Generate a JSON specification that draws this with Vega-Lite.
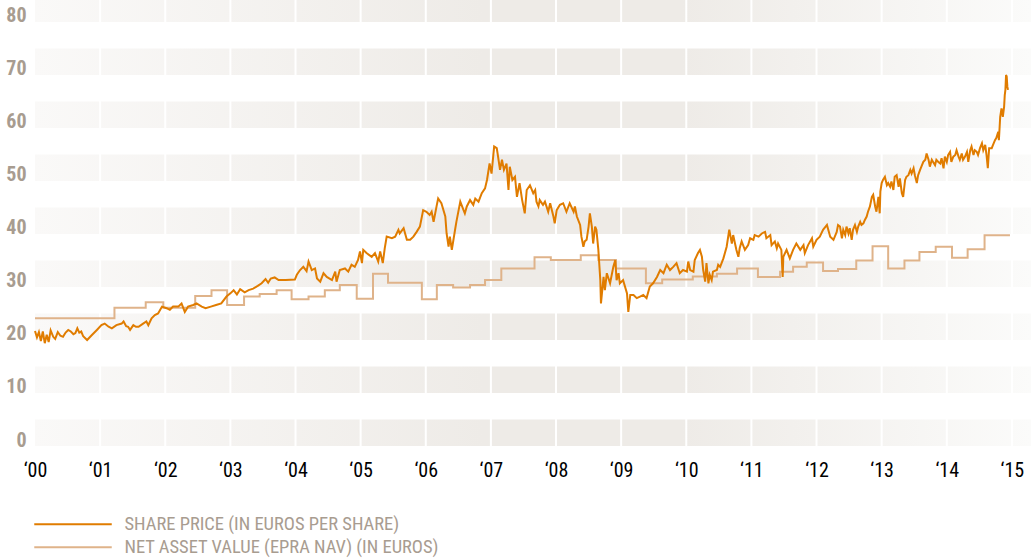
{
  "$schema": "https://vega.github.io/schema/vega-lite/v6.json",
  "width": 996,
  "height": 446,
  "autosize": {"type": "none"},
  "padding": {"left": 35, "top": 0, "right": 0, "bottom": 114},
  "background": "white",
  "config": {"view": {"stroke": null}},
  "datasets": {
    "bands": [
      {"lo": 0, "hi": 5}, {"lo": 10, "hi": 15}, {"lo": 20, "hi": 25}, {"lo": 30, "hi": 35},
      {"lo": 40, "hi": 45}, {"lo": 50, "hi": 55}, {"lo": 60, "hi": 65}, {"lo": 70, "hi": 75}, {"lo": 80, "hi": 84.15}
    ],
    "years": [
      {"year": 2001}, {"year": 2002}, {"year": 2003}, {"year": 2004}, {"year": 2005}, {"year": 2006}, {"year": 2007},
      {"year": 2008}, {"year": 2009}, {"year": 2010}, {"year": 2011}, {"year": 2012}, {"year": 2013}, {"year": 2014}, {"year": 2015}
    ],
    "nav": [
      {"t": 2000.00, "v": 24.1}, {"t": 2001.22, "v": 26.1}, {"t": 2001.70, "v": 27.1}, {"t": 2001.97, "v": 26.1},
      {"t": 2002.46, "v": 28.3}, {"t": 2002.71, "v": 29.4}, {"t": 2002.95, "v": 26.6}, {"t": 2003.21, "v": 28.2},
      {"t": 2003.45, "v": 28.7}, {"t": 2003.71, "v": 29.4}, {"t": 2003.94, "v": 27.7}, {"t": 2004.20, "v": 28.2},
      {"t": 2004.45, "v": 29.4}, {"t": 2004.68, "v": 30.4}, {"t": 2004.94, "v": 27.8}, {"t": 2005.19, "v": 32.5},
      {"t": 2005.42, "v": 30.8}, {"t": 2005.94, "v": 27.7}, {"t": 2006.17, "v": 30.4}, {"t": 2006.42, "v": 29.9},
      {"t": 2006.68, "v": 30.4}, {"t": 2006.91, "v": 31.3}, {"t": 2007.16, "v": 33.5}, {"t": 2007.67, "v": 35.6},
      {"t": 2007.92, "v": 35.1}, {"t": 2008.38, "v": 36.0}, {"t": 2008.65, "v": 35.1}, {"t": 2008.92, "v": 33.5},
      {"t": 2009.38, "v": 30.7}, {"t": 2009.63, "v": 31.4}, {"t": 2010.10, "v": 32.0}, {"t": 2010.47, "v": 32.5},
      {"t": 2010.78, "v": 33.5}, {"t": 2011.10, "v": 31.9}, {"t": 2011.44, "v": 32.9}, {"t": 2011.64, "v": 33.8},
      {"t": 2011.85, "v": 34.6}, {"t": 2012.10, "v": 33.0}, {"t": 2012.33, "v": 33.4}, {"t": 2012.61, "v": 35.0},
      {"t": 2012.86, "v": 37.7}, {"t": 2013.10, "v": 33.5}, {"t": 2013.35, "v": 35.0}, {"t": 2013.58, "v": 36.6},
      {"t": 2013.83, "v": 37.6}, {"t": 2014.08, "v": 35.5}, {"t": 2014.32, "v": 37.1}, {"t": 2014.58, "v": 39.75},
      {"t": 2014.97, "v": 39.75}
    ],
    "price": [
      {"t": 2000.00, "v": 21.7}, {"t": 2000.03, "v": 20.5}, {"t": 2000.06, "v": 21.5}, {"t": 2000.09, "v": 19.8},
      {"t": 2000.12, "v": 21.6}, {"t": 2000.15, "v": 19.4}, {"t": 2000.18, "v": 21.0}, {"t": 2000.21, "v": 19.6},
      {"t": 2000.24, "v": 21.8}, {"t": 2000.28, "v": 20.6}, {"t": 2000.31, "v": 20.2}, {"t": 2000.35, "v": 21.5},
      {"t": 2000.39, "v": 20.8}, {"t": 2000.43, "v": 20.6}, {"t": 2000.47, "v": 21.4}, {"t": 2000.51, "v": 21.9},
      {"t": 2000.55, "v": 21.6}, {"t": 2000.59, "v": 21.1}, {"t": 2000.62, "v": 21.3}, {"t": 2000.65, "v": 22.2},
      {"t": 2000.68, "v": 21.4}, {"t": 2000.71, "v": 21.6}, {"t": 2000.74, "v": 20.7}, {"t": 2000.80, "v": 20.0},
      {"t": 2000.87, "v": 20.9}, {"t": 2000.95, "v": 21.9}, {"t": 2001.02, "v": 22.8}, {"t": 2001.07, "v": 23.1},
      {"t": 2001.13, "v": 22.5}, {"t": 2001.18, "v": 22.2}, {"t": 2001.25, "v": 22.8}, {"t": 2001.33, "v": 23.1},
      {"t": 2001.36, "v": 23.5}, {"t": 2001.40, "v": 22.6}, {"t": 2001.43, "v": 22.5}, {"t": 2001.46, "v": 21.9},
      {"t": 2001.51, "v": 22.8}, {"t": 2001.55, "v": 22.5}, {"t": 2001.59, "v": 22.5}, {"t": 2001.66, "v": 23.1},
      {"t": 2001.71, "v": 23.5}, {"t": 2001.74, "v": 22.8}, {"t": 2001.79, "v": 24.1}, {"t": 2001.84, "v": 24.7},
      {"t": 2001.89, "v": 25.0}, {"t": 2001.95, "v": 26.3}, {"t": 2002.02, "v": 26.0}, {"t": 2002.07, "v": 25.7},
      {"t": 2002.12, "v": 26.3}, {"t": 2002.20, "v": 26.3}, {"t": 2002.25, "v": 26.9}, {"t": 2002.30, "v": 25.3},
      {"t": 2002.35, "v": 26.3}, {"t": 2002.43, "v": 26.6}, {"t": 2002.48, "v": 26.9}, {"t": 2002.56, "v": 26.3},
      {"t": 2002.62, "v": 26.0}, {"t": 2002.70, "v": 26.3}, {"t": 2002.78, "v": 26.6}, {"t": 2002.86, "v": 26.9},
      {"t": 2002.94, "v": 28.2}, {"t": 2003.00, "v": 28.8}, {"t": 2003.05, "v": 29.4}, {"t": 2003.10, "v": 28.6},
      {"t": 2003.15, "v": 29.6}, {"t": 2003.22, "v": 29.0}, {"t": 2003.28, "v": 29.4}, {"t": 2003.35, "v": 29.7},
      {"t": 2003.42, "v": 30.2}, {"t": 2003.48, "v": 30.7}, {"t": 2003.54, "v": 31.5}, {"t": 2003.58, "v": 30.8},
      {"t": 2003.62, "v": 31.6}, {"t": 2003.68, "v": 31.8}, {"t": 2003.74, "v": 31.3}, {"t": 2003.85, "v": 31.3},
      {"t": 2003.99, "v": 31.4}, {"t": 2004.02, "v": 32.3}, {"t": 2004.07, "v": 33.2}, {"t": 2004.12, "v": 33.8},
      {"t": 2004.17, "v": 33.0}, {"t": 2004.20, "v": 34.8}, {"t": 2004.25, "v": 33.2}, {"t": 2004.30, "v": 33.5},
      {"t": 2004.33, "v": 31.6}, {"t": 2004.38, "v": 31.0}, {"t": 2004.43, "v": 32.6}, {"t": 2004.48, "v": 31.9},
      {"t": 2004.56, "v": 31.3}, {"t": 2004.61, "v": 32.9}, {"t": 2004.63, "v": 31.0}, {"t": 2004.68, "v": 33.2},
      {"t": 2004.76, "v": 33.5}, {"t": 2004.81, "v": 32.9}, {"t": 2004.86, "v": 34.2}, {"t": 2004.91, "v": 33.8},
      {"t": 2004.96, "v": 35.1}, {"t": 2004.99, "v": 36.7}, {"t": 2005.02, "v": 34.5}, {"t": 2005.04, "v": 37.0},
      {"t": 2005.09, "v": 36.4}, {"t": 2005.17, "v": 35.7}, {"t": 2005.22, "v": 36.4}, {"t": 2005.27, "v": 34.8},
      {"t": 2005.30, "v": 36.7}, {"t": 2005.34, "v": 34.5}, {"t": 2005.37, "v": 37.3}, {"t": 2005.40, "v": 39.5},
      {"t": 2005.48, "v": 39.2}, {"t": 2005.53, "v": 39.5}, {"t": 2005.58, "v": 40.8}, {"t": 2005.60, "v": 40.1},
      {"t": 2005.66, "v": 41.1}, {"t": 2005.71, "v": 38.9}, {"t": 2005.76, "v": 38.9}, {"t": 2005.81, "v": 39.5},
      {"t": 2005.86, "v": 40.4}, {"t": 2005.91, "v": 41.4}, {"t": 2005.96, "v": 44.5}, {"t": 2006.01, "v": 44.2},
      {"t": 2006.06, "v": 43.6}, {"t": 2006.09, "v": 44.2}, {"t": 2006.12, "v": 42.3}, {"t": 2006.17, "v": 45.5},
      {"t": 2006.19, "v": 46.7}, {"t": 2006.24, "v": 45.8}, {"t": 2006.30, "v": 43.3}, {"t": 2006.32, "v": 40.1},
      {"t": 2006.35, "v": 37.6}, {"t": 2006.37, "v": 39.5}, {"t": 2006.40, "v": 37.0}, {"t": 2006.45, "v": 40.8},
      {"t": 2006.47, "v": 42.3}, {"t": 2006.53, "v": 46.1}, {"t": 2006.58, "v": 44.5}, {"t": 2006.60, "v": 43.9},
      {"t": 2006.63, "v": 45.2}, {"t": 2006.68, "v": 46.4}, {"t": 2006.73, "v": 45.5}, {"t": 2006.76, "v": 46.7},
      {"t": 2006.81, "v": 46.1}, {"t": 2006.86, "v": 47.7}, {"t": 2006.91, "v": 48.6}, {"t": 2006.94, "v": 50.2},
      {"t": 2006.98, "v": 53.3}, {"t": 2007.01, "v": 51.4}, {"t": 2007.05, "v": 56.5}, {"t": 2007.09, "v": 56.2},
      {"t": 2007.11, "v": 54.6}, {"t": 2007.14, "v": 52.1}, {"t": 2007.17, "v": 54.0}, {"t": 2007.20, "v": 52.1},
      {"t": 2007.24, "v": 53.3}, {"t": 2007.27, "v": 48.3}, {"t": 2007.29, "v": 52.7}, {"t": 2007.33, "v": 50.2},
      {"t": 2007.37, "v": 50.8}, {"t": 2007.40, "v": 47.0}, {"t": 2007.44, "v": 49.6}, {"t": 2007.48, "v": 46.4},
      {"t": 2007.52, "v": 43.9}, {"t": 2007.55, "v": 48.3}, {"t": 2007.60, "v": 49.2}, {"t": 2007.65, "v": 47.7},
      {"t": 2007.68, "v": 48.3}, {"t": 2007.70, "v": 46.1}, {"t": 2007.73, "v": 45.2}, {"t": 2007.75, "v": 46.4},
      {"t": 2007.80, "v": 45.5}, {"t": 2007.83, "v": 46.1}, {"t": 2007.88, "v": 44.2}, {"t": 2007.91, "v": 45.8},
      {"t": 2007.96, "v": 43.3}, {"t": 2007.98, "v": 42.0}, {"t": 2008.01, "v": 44.5}, {"t": 2008.06, "v": 45.5},
      {"t": 2008.11, "v": 45.8}, {"t": 2008.16, "v": 44.2}, {"t": 2008.21, "v": 45.8}, {"t": 2008.27, "v": 44.2},
      {"t": 2008.29, "v": 45.2}, {"t": 2008.32, "v": 43.3}, {"t": 2008.37, "v": 41.7}, {"t": 2008.39, "v": 39.5},
      {"t": 2008.42, "v": 37.6}, {"t": 2008.44, "v": 38.6}, {"t": 2008.47, "v": 38.9}, {"t": 2008.50, "v": 41.4},
      {"t": 2008.52, "v": 43.9}, {"t": 2008.55, "v": 41.4}, {"t": 2008.57, "v": 38.2}, {"t": 2008.60, "v": 41.4},
      {"t": 2008.62, "v": 40.8}, {"t": 2008.65, "v": 37.0}, {"t": 2008.68, "v": 31.3}, {"t": 2008.69, "v": 26.9},
      {"t": 2008.73, "v": 31.9}, {"t": 2008.75, "v": 29.4}, {"t": 2008.78, "v": 32.6}, {"t": 2008.83, "v": 30.7},
      {"t": 2008.88, "v": 33.8}, {"t": 2008.91, "v": 35.1}, {"t": 2008.93, "v": 31.3}, {"t": 2008.96, "v": 32.6},
      {"t": 2008.98, "v": 30.7}, {"t": 2009.03, "v": 31.3}, {"t": 2009.09, "v": 28.8}, {"t": 2009.11, "v": 25.3},
      {"t": 2009.14, "v": 28.5}, {"t": 2009.19, "v": 28.5}, {"t": 2009.24, "v": 27.9}, {"t": 2009.29, "v": 28.2},
      {"t": 2009.34, "v": 28.5}, {"t": 2009.39, "v": 27.9}, {"t": 2009.44, "v": 30.1}, {"t": 2009.49, "v": 30.7},
      {"t": 2009.55, "v": 31.9}, {"t": 2009.60, "v": 33.2}, {"t": 2009.65, "v": 32.6}, {"t": 2009.70, "v": 34.2},
      {"t": 2009.75, "v": 33.2}, {"t": 2009.80, "v": 33.8}, {"t": 2009.85, "v": 34.5}, {"t": 2009.90, "v": 32.6},
      {"t": 2009.95, "v": 33.2}, {"t": 2010.01, "v": 32.9}, {"t": 2010.03, "v": 34.8}, {"t": 2010.06, "v": 33.2},
      {"t": 2010.11, "v": 32.9}, {"t": 2010.13, "v": 35.1}, {"t": 2010.18, "v": 36.4}, {"t": 2010.21, "v": 37.0},
      {"t": 2010.24, "v": 35.7}, {"t": 2010.26, "v": 33.2}, {"t": 2010.29, "v": 31.0}, {"t": 2010.31, "v": 34.5},
      {"t": 2010.34, "v": 30.7}, {"t": 2010.36, "v": 32.3}, {"t": 2010.39, "v": 31.3}, {"t": 2010.41, "v": 32.9},
      {"t": 2010.47, "v": 33.2}, {"t": 2010.49, "v": 34.2}, {"t": 2010.52, "v": 33.8}, {"t": 2010.57, "v": 35.4},
      {"t": 2010.62, "v": 37.6}, {"t": 2010.66, "v": 40.8}, {"t": 2010.70, "v": 38.2}, {"t": 2010.72, "v": 39.8},
      {"t": 2010.77, "v": 37.0}, {"t": 2010.80, "v": 35.7}, {"t": 2010.82, "v": 37.3}, {"t": 2010.85, "v": 38.6},
      {"t": 2010.90, "v": 37.0}, {"t": 2010.95, "v": 37.9}, {"t": 2010.98, "v": 39.2}, {"t": 2011.03, "v": 38.9},
      {"t": 2011.05, "v": 39.8}, {"t": 2011.11, "v": 39.5}, {"t": 2011.16, "v": 40.1}, {"t": 2011.21, "v": 40.4},
      {"t": 2011.23, "v": 39.2}, {"t": 2011.29, "v": 39.8}, {"t": 2011.31, "v": 37.9}, {"t": 2011.36, "v": 38.6},
      {"t": 2011.39, "v": 37.3}, {"t": 2011.41, "v": 38.2}, {"t": 2011.46, "v": 37.0}, {"t": 2011.48, "v": 31.9},
      {"t": 2011.49, "v": 35.7}, {"t": 2011.54, "v": 37.0}, {"t": 2011.59, "v": 35.4}, {"t": 2011.64, "v": 37.0},
      {"t": 2011.69, "v": 38.2}, {"t": 2011.75, "v": 37.0}, {"t": 2011.80, "v": 37.9}, {"t": 2011.82, "v": 36.4},
      {"t": 2011.87, "v": 37.9}, {"t": 2011.93, "v": 39.2}, {"t": 2011.95, "v": 37.6}, {"t": 2012.00, "v": 38.9},
      {"t": 2012.05, "v": 39.5}, {"t": 2012.10, "v": 40.8}, {"t": 2012.16, "v": 41.7}, {"t": 2012.21, "v": 39.5},
      {"t": 2012.26, "v": 38.9}, {"t": 2012.31, "v": 40.4}, {"t": 2012.33, "v": 41.7}, {"t": 2012.36, "v": 41.4},
      {"t": 2012.39, "v": 39.2}, {"t": 2012.41, "v": 40.8}, {"t": 2012.44, "v": 39.8}, {"t": 2012.46, "v": 41.4},
      {"t": 2012.49, "v": 40.1}, {"t": 2012.51, "v": 41.1}, {"t": 2012.54, "v": 38.9}, {"t": 2012.56, "v": 40.8},
      {"t": 2012.59, "v": 41.7}, {"t": 2012.62, "v": 40.4}, {"t": 2012.64, "v": 41.4}, {"t": 2012.67, "v": 42.3},
      {"t": 2012.69, "v": 41.7}, {"t": 2012.72, "v": 42.0}, {"t": 2012.74, "v": 42.6}, {"t": 2012.77, "v": 43.3},
      {"t": 2012.79, "v": 44.2}, {"t": 2012.82, "v": 45.2}, {"t": 2012.85, "v": 47.0}, {"t": 2012.87, "v": 47.4},
      {"t": 2012.90, "v": 45.2}, {"t": 2012.92, "v": 44.2}, {"t": 2012.95, "v": 47.0}, {"t": 2012.97, "v": 43.9},
      {"t": 2012.98, "v": 48.0}, {"t": 2013.00, "v": 49.6}, {"t": 2013.02, "v": 50.2}, {"t": 2013.05, "v": 50.8},
      {"t": 2013.08, "v": 49.2}, {"t": 2013.10, "v": 49.6}, {"t": 2013.13, "v": 48.9}, {"t": 2013.15, "v": 49.9},
      {"t": 2013.18, "v": 48.3}, {"t": 2013.20, "v": 50.8}, {"t": 2013.23, "v": 51.1}, {"t": 2013.26, "v": 48.9},
      {"t": 2013.28, "v": 50.5}, {"t": 2013.31, "v": 47.7}, {"t": 2013.33, "v": 47.0}, {"t": 2013.36, "v": 50.2},
      {"t": 2013.38, "v": 50.8}, {"t": 2013.41, "v": 51.1}, {"t": 2013.44, "v": 52.1}, {"t": 2013.46, "v": 51.4},
      {"t": 2013.49, "v": 52.4}, {"t": 2013.51, "v": 51.1}, {"t": 2013.54, "v": 49.6}, {"t": 2013.56, "v": 51.1},
      {"t": 2013.59, "v": 52.1}, {"t": 2013.61, "v": 52.7}, {"t": 2013.64, "v": 53.6}, {"t": 2013.67, "v": 54.0},
      {"t": 2013.69, "v": 55.2}, {"t": 2013.72, "v": 54.0}, {"t": 2013.74, "v": 52.7}, {"t": 2013.77, "v": 54.0},
      {"t": 2013.79, "v": 53.6}, {"t": 2013.82, "v": 53.0}, {"t": 2013.84, "v": 54.0}, {"t": 2013.87, "v": 53.6},
      {"t": 2013.90, "v": 53.3}, {"t": 2013.92, "v": 54.3}, {"t": 2013.95, "v": 52.4}, {"t": 2013.97, "v": 54.6},
      {"t": 2014.00, "v": 53.6}, {"t": 2014.02, "v": 54.9}, {"t": 2014.05, "v": 55.5}, {"t": 2014.07, "v": 53.6},
      {"t": 2014.10, "v": 54.6}, {"t": 2014.13, "v": 54.9}, {"t": 2014.15, "v": 55.8}, {"t": 2014.18, "v": 54.6},
      {"t": 2014.20, "v": 54.0}, {"t": 2014.23, "v": 55.2}, {"t": 2014.25, "v": 54.0}, {"t": 2014.28, "v": 54.6},
      {"t": 2014.31, "v": 55.5}, {"t": 2014.33, "v": 53.6}, {"t": 2014.36, "v": 55.8}, {"t": 2014.38, "v": 56.5},
      {"t": 2014.41, "v": 54.9}, {"t": 2014.43, "v": 55.8}, {"t": 2014.46, "v": 55.5}, {"t": 2014.48, "v": 54.9},
      {"t": 2014.51, "v": 56.2}, {"t": 2014.54, "v": 57.1}, {"t": 2014.56, "v": 55.8}, {"t": 2014.59, "v": 56.8},
      {"t": 2014.61, "v": 54.9}, {"t": 2014.63, "v": 52.4}, {"t": 2014.65, "v": 56.2}, {"t": 2014.69, "v": 56.2},
      {"t": 2014.71, "v": 56.8}, {"t": 2014.74, "v": 57.7}, {"t": 2014.76, "v": 58.1}, {"t": 2014.79, "v": 59.3},
      {"t": 2014.80, "v": 57.7}, {"t": 2014.82, "v": 62.1}, {"t": 2014.84, "v": 63.7}, {"t": 2014.86, "v": 62.1},
      {"t": 2014.88, "v": 64.0}, {"t": 2014.89, "v": 66.2}, {"t": 2014.90, "v": 67.2}, {"t": 2014.91, "v": 70.0},
      {"t": 2014.92, "v": 69.7}, {"t": 2014.93, "v": 67.8}, {"t": 2014.94, "v": 67.2}
    ]
  },
  "layer": [
    {
      "data": {"name": "bands"},
      "mark": {
        "type": "rect",
        "color": {
          "gradient": "linear", "x1": 0, "x2": 1, "y1": 0, "y2": 0,
          "stops": [
            {"offset": 0, "color": "#faf9f8"},
            {"offset": 0.45, "color": "#eeebe7"},
            {"offset": 0.65, "color": "#eeebe7"},
            {"offset": 1, "color": "#fbfbfa"}
          ]
        }
      },
      "encoding": {
        "y": {
          "field": "lo", "type": "quantitative",
          "scale": {"domain": [0, 84.15], "nice": false, "zero": false},
          "axis": {
            "values": [0, 10, 20, 30, 40, 50, 60, 70, 80],
            "title": null, "domain": false, "ticks": false, "grid": false,
            "labelAlign": "right", "labelBaseline": "alphabetic", "labelPadding": 9,
            "labelFont": "Liberation Sans Narrow, Roboto Condensed, DejaVu Sans Condensed, sans-serif",
            "labelFontSize": 20, "labelFontWeight": "bold", "labelColor": "#a89c90"
          }
        },
        "y2": {"field": "hi"}
      }
    },
    {
      "data": {"name": "years"},
      "mark": {"type": "rule", "color": "white", "strokeWidth": 2},
      "encoding": {
        "x": {
          "field": "year", "type": "quantitative",
          "scale": {"domain": [2000, 2015.293], "nice": false, "zero": false},
          "axis": {
            "values": [2000, 2001, 2002, 2003, 2004, 2005, 2006, 2007, 2008, 2009, 2010, 2011, 2012, 2013, 2014, 2015],
            "labelExpr": "'‘' + slice(toString(datum.value), 2)",
            "title": null, "domain": false, "ticks": false, "grid": false,
            "labelPadding": 14, "labelFontSize": 20, "labelColor": "#000000",
            "labelFont": "Liberation Sans Narrow, Roboto Condensed, DejaVu Sans Condensed, sans-serif",
            "labelFlush": false, "labelOverlap": false
          }
        }
      }
    },
    {
      "data": {"name": "nav"},
      "mark": {"type": "line", "interpolate": "step-after", "strokeWidth": 2},
      "encoding": {
        "x": {"field": "t", "type": "quantitative"},
        "y": {"field": "v", "type": "quantitative"},
        "color": {"datum": "NET ASSET VALUE (EPRA NAV) (IN EUROS)"}
      }
    },
    {
      "data": {"name": "price"},
      "mark": {"type": "line", "strokeWidth": 2},
      "encoding": {
        "x": {"field": "t", "type": "quantitative"},
        "y": {"field": "v", "type": "quantitative"},
        "color": {
          "datum": "SHARE PRICE (IN EUROS PER SHARE)",
          "scale": {
            "domain": ["SHARE PRICE (IN EUROS PER SHARE)", "NET ASSET VALUE (EPRA NAV) (IN EUROS)"],
            "range": ["#e07c00", "#dfb38a"]
          },
          "legend": {
            "orient": "none", "legendX": -5, "legendY": 515, "title": null,
            "symbolType": "M-1,0H14.5", "symbolSize": 100, "symbolStrokeWidth": 2,
            "labelOffset": 76, "labelFontSize": 18.5, "labelColor": "#a89c90",
            "labelFont": "Liberation Sans Narrow, Roboto Condensed, DejaVu Sans Condensed, sans-serif",
            "padding": 0, "rowPadding": 4, "labelLimit": 500
          }
        }
      }
    }
  ]
}
